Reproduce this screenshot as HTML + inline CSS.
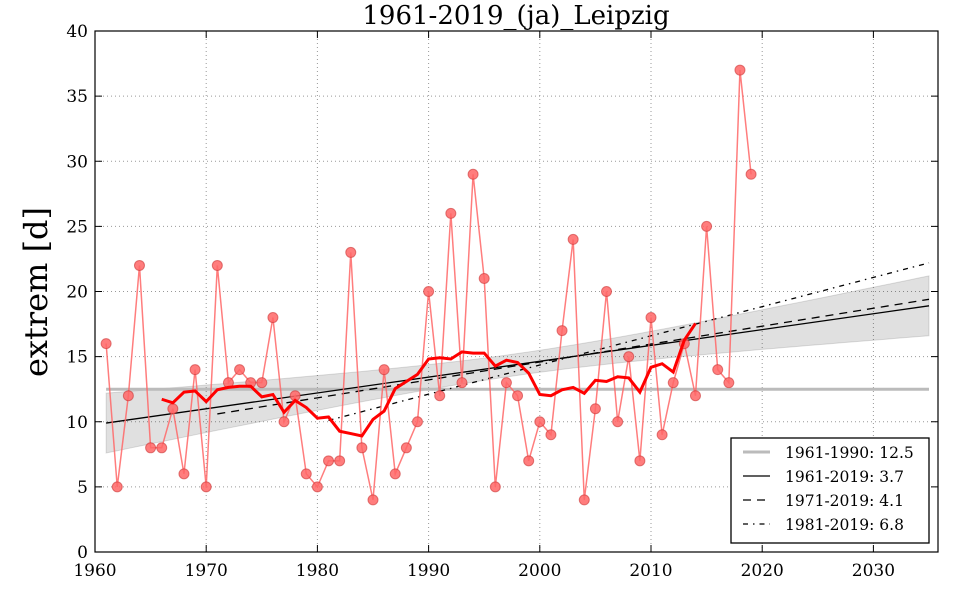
<!DOCTYPE html><html><head><meta charset="utf-8"><style>body{margin:0;background:#fff}svg{display:block}text{font-family:"DejaVu Serif","Liberation Serif",serif}</style></head><body>
<svg id="s" width="960" height="600" xmlns="http://www.w3.org/2000/svg"></svg>
<script>
const d=[16,5,12,22,8,8,11,6,14,5,22,13,14,13,13,18,10,12,6,5,7,7,23,8,4,14,6,8,10,20,12,26,13,29,21,5,13,12,7,10,9,17,24,4,11,20,10,15,7,18,9,13,16,12,25,14,13,37,29];
const X=y=>95+(y-1960)*11.12, Y=v=>552-v*13.025;
let h='';
for(let t=1970;t<=2030;t+=10)h+=`<line x1="${X(t)}" y1="31" x2="${X(t)}" y2="552" stroke="#999" stroke-dasharray="1,3"/>`;
for(let v=5;v<40;v+=5)h+=`<line x1="95" y1="${Y(v)}" x2="938" y2="${Y(v)}" stroke="#999" stroke-dasharray="1,3"/>`;
const f=y=>9.9+(y-1961)*(9/74);
let up=[],lo=[];
for(let y=1961;y<=2035;y++){let w=Math.sqrt(0.7+0.00335*(y-1998)**2);up.push(X(y)+','+Y(f(y)+w));lo.unshift(X(y)+','+Y(f(y)-w));}
h+=`<polygon points="${up.join(' ')} ${lo.join(' ')}" fill="#000" fill-opacity="0.12" stroke="#000" stroke-opacity="0.12"/>`;
h+=`<line x1="${X(1961)}" y1="${Y(12.5)}" x2="${X(2035)}" y2="${Y(12.5)}" stroke="#bbb" stroke-width="3"/>`;
h+=`<line x1="${X(1961)}" y1="${Y(9.9)}" x2="${X(2035)}" y2="${Y(18.9)}" stroke="#000" stroke-width="1.3"/>`;
h+=`<line x1="${X(1971)}" y1="${Y(10.6)}" x2="${X(2035)}" y2="${Y(19.4)}" stroke="#000" stroke-width="1.3" stroke-dasharray="8,6"/>`;
h+=`<line x1="${X(1981)}" y1="${Y(10.1)}" x2="${X(2035)}" y2="${Y(22.2)}" stroke="#000" stroke-width="1.3" stroke-dasharray="5,5,1.5,5"/>`;
let p=d.map((v,i)=>X(1961+i)+','+Y(v)).join(' ');
h+=`<polyline points="${p}" fill="none" stroke="#f66" stroke-opacity="0.85" stroke-width="1.5"/>`;
d.forEach((v,i)=>h+=`<circle cx="${X(1961+i)}" cy="${Y(v)}" r="5" fill="#f66" fill-opacity="0.85" stroke="#c33" stroke-opacity="0.6"/>`);
let m=[];for(let i=5;i<=53;i++){let s=0;for(let k=-5;k<=5;k++)s+=d[i+k];m.push(X(1961+i)+','+Y(s/11));}
h+=`<polyline points="${m.join(' ')}" fill="none" stroke="#f00" stroke-width="3"/>`;
h+=`<rect x="95" y="31" width="843" height="521" fill="none" stroke="#000" stroke-width="1.2"/>`;
for(let t=1960;t<=2030;t+=10){h+=`<line x1="${X(t)}" y1="552" x2="${X(t)}" y2="545" stroke="#000"/><line x1="${X(t)}" y1="31" x2="${X(t)}" y2="38" stroke="#000"/><text x="${X(t)}" y="576" font-size="17" text-anchor="middle">${t}</text>`;}
for(let v=0;v<=40;v+=5){h+=`<line x1="95" y1="${Y(v)}" x2="102" y2="${Y(v)}" stroke="#000"/><line x1="938" y1="${Y(v)}" x2="931" y2="${Y(v)}" stroke="#000"/><text x="88" y="${Y(v)+6}" font-size="17" text-anchor="end">${v}</text>`;}
h+=`<text x="516" y="24" font-size="26" text-anchor="middle">1961-2019_(ja)_Leipzig</text>`;
h+=`<text transform="translate(47,292) rotate(-90)" font-size="32" text-anchor="middle">extrem [d]</text>`;
h+=`<rect x="731" y="438" width="198" height="105" fill="#fff" stroke="#000" stroke-width="1.3"/>`;
const L=[["#bbb",3,"","1961-1990: 12.5"],["#000",1.3,"","1961-2019: 3.7"],["#000",1.3,"8,6","1971-2019: 4.1"],["#000",1.3,"5,5,1.5,5","1981-2019: 6.8"]];
L.forEach((l,i)=>{let yy=452+i*24;h+=`<line x1="743" y1="${yy}" x2="770" y2="${yy}" stroke="${l[0]}" stroke-width="${l[1]}" stroke-dasharray="${l[2]}"/><text x="785" y="${yy+6}" font-size="15.5">${l[3]}</text>`;});
document.getElementById('s').innerHTML=h;
</script></body></html>
